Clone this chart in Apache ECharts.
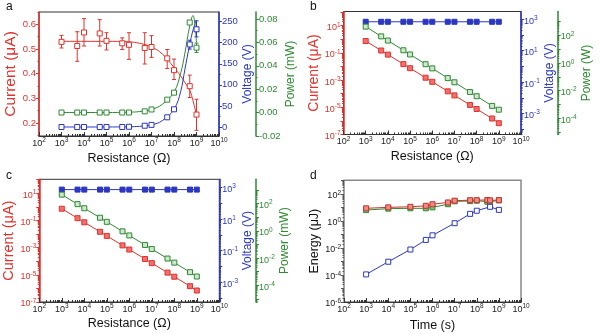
<!DOCTYPE html>
<html><head><meta charset="utf-8">
<script src="https://cdn.jsdelivr.net/npm/echarts@6/dist/echarts.min.js"></script>
<style>html,body{margin:0;padding:0;background:#fff}#c{width:600px;height:334px}</style>
</head><body><div id="c"></div>
<script>
// ---------------- data ----------------
const resistance = [1e3,5e3,1e4,5e4,1e5,5e5,1e6,5e6,1e7,5e7,1e8,5e8,1e9];
// panel a
const currentA   = [0.529,0.512,0.567,0.563,0.533,0.523,0.517,0.504,0.508,0.462,0.414,0.349,0.234];
const currentALo = [0.504,0.450,0.512,0.512,0.496,0.498,0.458,0.439,0.466,0.421,0.376,0.303,0.170];
const currentAHi = [0.555,0.570,0.623,0.619,0.566,0.545,0.566,0.566,0.554,0.498,0.459,0.394,0.296];
const voltageA   = [0,0,0,0,0,0,0.5,3,5,23,42,196,232];
const voltageALo = [0,0,0,0,0,0,0.5,3,5,23,42,185,214];
const voltageAHi = [0,0,0,0,0,0,0.5,3,5,23,42,206,252];
const powerA     = [0,0,0,0,0,0,0,0.001,0.0026,0.011,0.017,0.077,0.0555];
const powerALo   = [0,0,0,0,0,0,0,0.001,0.0026,0.011,0.017,0.0755,0.0514];
const powerAHi   = [0,0,0,0,0,0,0,0.001,0.0026,0.011,0.017,0.0785,0.0594];
const fitRes     = [1e3,1e4,1e5,1e6,3e6,1e7,3e7,1e8,2e8,3e8,5e8,7e8,1e9];
const fitCurrentA= [0.531,0.531,0.531,0.529,0.523,0.508,0.48,0.425,0.39,0.365,0.333,0.29,0.232];
const fitVoltageA= [0,0,0,0.5,1.6,5,15,42,85,135,196,230,254];
const fitPowRes  = [1e3,1e4,1e5,1e6,3e6,1e7,3e7,1e8,2e8,3e8,5e8,7e8,8.5e8,1e9];
const fitPowerA  = [0,0,0,0.0003,0.0008,0.0026,0.007,0.0175,0.034,0.05,0.074,0.083,0.075,0.06];
// panel b
const currentB = [0.75,0.15,0.075,0.015,0.0075,0.0015,7.5e-4,1.5e-4,7.5e-5,1.5e-5,7.5e-6,1.5e-6,6.8e-7];
const voltageB = [700,700,700,700,700,700,700,700,700,700,700,700,700];
const powerB   = [400,80,40,8,4,0.8,0.4,0.08,0.04,0.008,0.004,8e-4,4.3e-4];
// panel c
const currentC = [0.72,0.145,0.072,0.0145,0.0072,0.00145,7.2e-4,1.45e-4,7.2e-5,1.45e-5,7.2e-6,1.45e-6,7e-7];
const voltageC = [750,750,750,750,750,750,750,750,750,750,750,750,750];
const powerC   = [460,92,46,9.2,4.6,0.92,0.46,0.092,0.046,0.0092,0.0046,9.2e-4,4.4e-4];
// panel d
const timeD     = [1e3,1e4,1e5,5e5,1e6,5e6,1e7,5e7,1e8,3e8,4e8,1e9];
const energyRed = [8.5,10,11,13,17,23,31,34,34,35,33,34];
const energyGrn = [6.3,8,8.5,8.5,10,17,28,29,31,26,26,33];
const timeBlueD = [1e3,1e4,1e5,5e5,1e6,1e7,5e7,1e8,4e8,1e9];
const energyBlu = [1.1e-4,9.5e-4,7.6e-3,0.039,0.085,0.67,3.3,5.6,11,6.5];
// tick labels
const xTickLabels   = [1e2,1e3,1e4,1e5,1e6,1e7,1e8,1e9,1e10];
const curTicksA     = [0.2,0.3,0.4,0.5,0.6];
const voltTicksA    = [0,50,100,150,200,250];
const powTicksA     = [-0.02,0,0.02,0.04,0.06,0.08];
const curLogLabels  = [1e-7,1e-5,1e-3,1e-1,1e1];
const voltLogLabels = [1e-3,1e-1,1e1,1e3];
const powLogLabels  = [1e-4,1e-2,1e0,1e2];
const enLogLabels   = [1e-6,1e-4,1e-2,1e0,1e2];

// ---------------- helpers ----------------
const RED='#e2312b', BLUE='#2b37c2', GREEN='#2f8a33', DARK='#333';
const FONT='Liberation Sans';
function decades(lo,hi){const o=[];for(let e=lo;e<=hi;e++)o.push(Math.pow(10,e));return o;}
function minors(lo,hi){const o=[];for(let e=lo;e<hi;e++)for(let m=2;m<=9;m++)o.push(m*Math.pow(10,e));return o;}
function linSteps(a,b,s){const o=[];for(let v=a;v<=b+1e-9;v+=s)o.push(+v.toFixed(6));return o;}
function supFmt(v){return '{b|10}{s|'+Math.round(Math.log10(v))+'}';}
function supRich(color){return {
  b:{fontSize:9,fontFamily:FONT,color:color,lineHeight:9,padding:[4,0,0,0]},
  s:{fontSize:6.5,fontFamily:FONT,color:color,lineHeight:7,verticalAlign:'top'}};}
const zip=(xs,ys)=>xs.map((x,i)=>[x,ys[i]]);
const zip3=(xs,a,b)=>xs.map((x,i)=>[x,a[i],b[i]]);

const xAxes=[], yAxes=[];
function xLog(gi,name,gap){
  const idx=xAxes.length;
  xAxes.push({type:'log',logBase:10,gridIndex:gi,position:'bottom',min:1e2,max:1e10,
    name:name,nameLocation:'middle',nameGap:gap,
    nameTextStyle:{fontFamily:FONT,fontSize:12.5,color:'#111'},
    axisLine:{show:true,onZero:false,lineStyle:{color:DARK,width:1}},
    axisTick:{show:true,inside:true,length:4,customValues:xTickLabels,lineStyle:{color:DARK}},
    axisLabel:{show:true,customValues:xTickLabels,formatter:supFmt,rich:supRich('#222'),margin:1},
    splitLine:{show:false}});
  xAxes.push({type:'log',logBase:10,gridIndex:gi,position:'bottom',min:1e2,max:1e10,
    axisLine:{show:false,onZero:false},
    axisTick:{show:true,inside:true,length:2,customValues:minors(2,10),lineStyle:{color:DARK}},
    axisLabel:{show:false},splitLine:{show:false}});
  return idx;
}
function yAx(o){
  const idx=yAxes.length, isLog=o.type==='log';
  yAxes.push({type:o.type,logBase:10,gridIndex:o.gi,position:o.pos,offset:o.offset||0,min:o.min,max:o.max,
    name:o.name,nameLocation:'middle',nameGap:o.gap,
    nameTextStyle:{fontFamily:FONT,fontSize:o.nameSize||12,color:o.color},
    axisLine:{show:true,onZero:false,lineStyle:{color:o.color,width:1.5}},
    axisTick:{show:true,inside:false,length:3,customValues:o.ticks,lineStyle:{color:o.color}},
    axisLabel:{customValues:o.labels,formatter:isLog?supFmt:o.fmt,rich:supRich(o.color),
      color:o.color,fontFamily:FONT,fontSize:9.5,margin:3},
    splitLine:{show:false}});
  if(o.minor){
    yAxes.push({type:o.type,logBase:10,gridIndex:o.gi,position:o.pos,offset:o.offset||0,min:o.min,max:o.max,
      axisLine:{show:false,onZero:false},axisTick:{show:true,inside:false,length:1.5,customValues:o.minor,lineStyle:{color:o.color}},
      axisLabel:{show:false},splitLine:{show:false}});
  }
  return idx;
}
function errBars(color,xi,yi,data){
  return {type:'custom',xAxisIndex:xi,yAxisIndex:yi,data:data,z:3,
    encode:{x:0,y:[1,2]},
    renderItem:function(p,api){
      const x=api.value(0), lo=api.value(1), hi=api.value(2);
      const a=api.coord([x,hi]), b=api.coord([x,lo]); const w=2;
      if(Math.abs(a[1]-b[1])<1) return null;
      return {type:'group',children:[
        {type:'line',shape:{x1:a[0],y1:a[1],x2:b[0],y2:b[1]},style:{stroke:color,lineWidth:1}},
        {type:'line',shape:{x1:a[0]-w,y1:a[1],x2:a[0]+w,y2:a[1]},style:{stroke:color,lineWidth:1}},
        {type:'line',shape:{x1:b[0]-w,y1:b[1],x2:b[0]+w,y2:b[1]},style:{stroke:color,lineWidth:1}}]};
    }};
}
function fitLine(color,xi,yi,data){
  return {type:'line',xAxisIndex:xi,yAxisIndex:yi,data:data,smooth:0.4,showSymbol:false,
    lineStyle:{color:color,width:1},z:2,silent:true};
}
function marks(color,xi,yi,data,fill,withLine){
  return {type:'line',xAxisIndex:xi,yAxisIndex:yi,data:data,symbol:'rect',symbolSize:5,
    showSymbol:true,lineStyle:{color:color,width:withLine?1:0,opacity:withLine?1:0},
    itemStyle:{color:fill,borderColor:color,borderWidth:1},z:4};
}

// ---------------- grids ----------------
const grids=[
  {left:39,top:12,width:180,height:124,show:true,borderColor:DARK,borderWidth:1},
  {left:343.5,top:11.5,width:177.5,height:123,show:true,borderColor:DARK,borderWidth:1},
  {left:39.3,top:179.3,width:180,height:122.7,show:true,borderColor:DARK,borderWidth:1},
  {left:344,top:180.3,width:177,height:121.7,show:true,borderColor:'#888',borderWidth:1.5}
];

// panel a axes
const xa=xLog(0,'Resistance (\u03a9)',16);
const yaC=yAx({gi:0,type:'value',pos:'left',min:0.147,max:0.65,color:RED,name:'Current (\u03bcA)',gap:14,
  nameSize:15.5,labels:curTicksA,ticks:linSteps(0.2,0.6,0.1),minor:linSteps(0.15,0.65,0.1),fmt:v=>v.toFixed(1)});
const yaV=yAx({gi:0,type:'value',pos:'right',min:-21.4,max:273,color:BLUE,name:'Voltage (V)',gap:18,
  labels:voltTicksA,ticks:voltTicksA,minor:linSteps(25,275,50),fmt:v=>String(v)});
const yaP=yAx({gi:0,type:'value',pos:'right',offset:37,min:-0.0201,max:0.086,color:GREEN,name:'Power (mW)',gap:16,
  labels:powTicksA,ticks:powTicksA,minor:linSteps(-0.01,0.08,0.02),fmt:v=>v.toFixed(2)});
// panel b axes
const xb=xLog(1,'Resistance (\u03a9)',16);
const ybC=yAx({gi:1,type:'log',pos:'left',min:1e-7,max:Math.pow(10,2.046),color:RED,name:'Current (\u03bcA)',gap:19,
  nameSize:14,labels:curLogLabels,ticks:decades(-7,2),minor:minors(-7,2)});
const ybV=yAx({gi:1,type:'log',pos:'right',min:Math.pow(10,-4.34),max:Math.pow(10,3.5),color:BLUE,name:'Voltage (V)',gap:16,
  labels:voltLogLabels,ticks:decades(-4,3),minor:minors(-5,3)});
const ybP=yAx({gi:1,type:'log',pos:'right',offset:36.7,min:Math.pow(10,-5.15),max:Math.pow(10,3.69),color:GREEN,name:'Power (W)',gap:19,
  labels:powLogLabels,ticks:decades(-5,3),minor:minors(-6,3)});
// panel c axes
const xc=xLog(2,'Resistance (\u03a9)',15);
const ycC=yAx({gi:2,type:'log',pos:'left',min:1e-7,max:Math.pow(10,2.02),color:RED,name:'Current (\u03bcA)',gap:15,
  nameSize:14.5,labels:curLogLabels,ticks:decades(-7,2),minor:minors(-7,2)});
const ycV=yAx({gi:2,type:'log',pos:'right',min:Math.pow(10,-4.27),max:Math.pow(10,3.53),color:BLUE,name:'Voltage (V)',gap:14,
  labels:voltLogLabels,ticks:decades(-4,3),minor:minors(-5,3)});
const ycP=yAx({gi:2,type:'log',pos:'right',offset:36.7,min:Math.pow(10,-5.23),max:Math.pow(10,3.79),color:GREEN,name:'Power (mW)',gap:17,
  labels:powLogLabels,ticks:decades(-5,3),minor:minors(-6,3)});
// panel d axes
const xd=xLog(3,'Time (s)',17);
const ydE=yAx({gi:3,type:'log',pos:'left',min:1e-6,max:1e3,color:'#555',name:'Energy (\u03bcJ)',gap:18,
  nameSize:12.5,labels:enLogLabels,ticks:decades(-6,3),minor:minors(-6,3)});
yAxes[ydE].nameTextStyle.color='#111';
yAxes[ydE].axisLabel.rich=supRich('#222');
yAxes[ydE].axisLine.show=false;

const series=[
  // a
  fitLine(RED,xa,yaC,zip(fitRes,fitCurrentA)),
  fitLine(BLUE,xa,yaV,zip(fitRes,fitVoltageA)),
  fitLine(GREEN,xa,yaP,zip(fitPowRes,fitPowerA)),
  errBars(RED,xa,yaC,zip3(resistance,currentALo,currentAHi)),
  errBars(BLUE,xa,yaV,zip3(resistance,voltageALo,voltageAHi)),
  errBars(GREEN,xa,yaP,zip3(resistance,powerALo,powerAHi)),
  marks(RED,xa,yaC,zip(resistance,currentA),'#fff',false),
  marks(BLUE,xa,yaV,zip(resistance,voltageA),'#fff',false),
  marks(GREEN,xa,yaP,zip(resistance,powerA),'#fff',false),
  // b
  marks(BLUE,xb,ybV,zip(resistance,voltageB),BLUE,true),
  marks(GREEN,xb,ybP,zip(resistance,powerB),'#cfe6cf',true),
  marks(RED,xb,ybC,zip(resistance,currentB),'#f07070',true),
  // c
  marks(BLUE,xc,ycV,zip(resistance,voltageC),BLUE,true),
  marks(GREEN,xc,ycP,zip(resistance,powerC),'#cfe6cf',true),
  marks(RED,xc,ycC,zip(resistance,currentC),'#f07070',true),
  // d
  marks(GREEN,xd,ydE,zip(timeD,energyGrn),'#7cbf7c',true),
  marks('#c8322c',xd,ydE,zip(timeD,energyRed),'#f08a84',true),
  marks(BLUE,xd,ydE,zip(timeBlueD,energyBlu),'#fff',true)
];

const chart=echarts.init(document.getElementById('c'),null,{renderer:'canvas'});
chart.setOption({
  animation:false,
  textStyle:{fontFamily:FONT},
  grid:grids, xAxis:xAxes, yAxis:yAxes, series:series,
  graphic:[
    {type:'text',left:6,top:1,style:{text:'a',font:'12px Liberation Sans',fill:'#111'}},
    {type:'text',left:310,top:1,style:{text:'b',font:'12px Liberation Sans',fill:'#111'}},
    {type:'text',left:6,top:170,style:{text:'c',font:'12px Liberation Sans',fill:'#111'}},
    {type:'text',left:310,top:170,style:{text:'d',font:'12px Liberation Sans',fill:'#111'}}
  ]
});
</script></body></html>
